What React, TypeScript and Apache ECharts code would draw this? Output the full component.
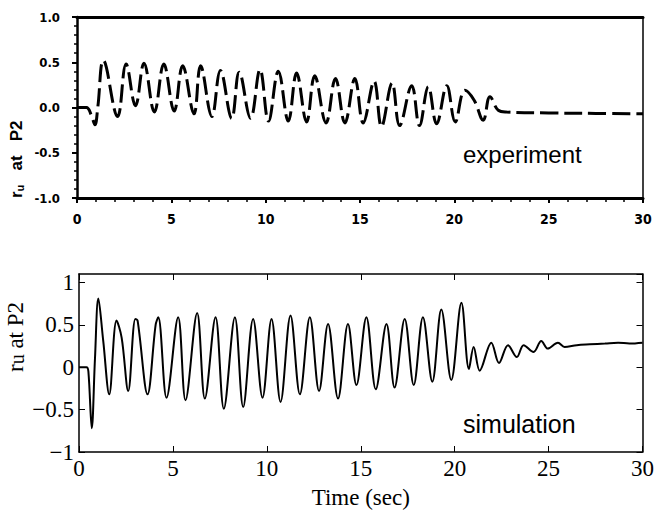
import React, { useEffect, useRef } from "react";
import * as echarts from "echarts";

// Top panel: experiment (time in sec, r_u)
const expTime = [0, 0.5, 0.75, 0.95, 1.1, 1.4, 2.15, 2.6, 3.1, 3.55, 4.1, 4.6, 5.15, 5.6, 6.2, 6.55, 7.15, 7.6, 8.2, 8.6, 9.2, 9.7, 10.15, 10.67, 11.2, 11.64, 12.17, 12.6, 13.2, 13.7, 14.2, 14.73, 15.17, 15.75, 16.14, 16.7, 17.1, 17.74, 18.15, 18.62, 19.06, 19.6, 20.05, 20.56, 21.05, 21.53, 21.89, 22.33, 22.77, 25, 27.5, 30];
const expValue = [0, 0, -0.08, -0.19, 0.0, 0.52, -0.1, 0.48, 0.02, 0.49, -0.05, 0.48, -0.04, 0.46, -0.07, 0.46, -0.1, 0.41, -0.12, 0.39, -0.12, 0.42, -0.15, 0.4, -0.15, 0.38, -0.16, 0.35, -0.17, 0.32, -0.17, 0.32, -0.17, 0.29, -0.21, 0.27, -0.2, 0.24, -0.2, 0.23, -0.18, 0.24, -0.16, 0.19, 0.08, -0.14, 0.12, -0.03, -0.05, -0.06, -0.065, -0.07];

// Bottom panel: simulation
const simTime = [0, 0.4, 0.5, 0.68, 0.85, 1.03, 1.29, 1.61, 2.0, 2.27, 2.62, 3.0, 3.12, 3.65, 4.08, 4.22, 4.66, 5.28, 5.67, 6.29, 6.7, 7.27, 7.71, 8.3, 8.74, 9.27, 9.77, 10.25, 10.73, 11.26, 11.76, 12.29, 12.78, 13.26, 13.79, 14.32, 14.77, 15.3, 15.8, 16.37, 16.8, 17.34, 17.82, 18.31, 18.81, 19.29, 19.82, 20.36, 20.76, 21.01, 21.33, 21.95, 22.36, 22.84, 23.31, 23.67, 24.2, 24.61, 24.96, 25.5, 25.85, 26.5, 27.2, 28, 28.7, 29.3, 30];
const simValue = [0, 0, -0.05, -0.72, 0.1, 0.81, 0.31, -0.32, 0.55, 0.35, -0.28, 0.57, 0.55, -0.32, 0.5, 0.59, -0.36, 0.59, -0.39, 0.64, -0.37, 0.59, -0.49, 0.59, -0.47, 0.57, -0.36, 0.57, -0.41, 0.61, -0.32, 0.59, -0.28, 0.51, -0.37, 0.51, -0.21, 0.59, -0.26, 0.51, -0.24, 0.57, -0.21, 0.59, -0.17, 0.68, -0.15, 0.76, -0.02, 0.24, -0.04, 0.29, 0.05, 0.26, 0.12, 0.26, 0.18, 0.31, 0.22, 0.29, 0.24, 0.26, 0.27, 0.28, 0.29, 0.28, 0.29];

const topYLabels = ["-1.0", "-0.5", "0.0", "0.5", "1.0"];
const bottomYLabels = ["\u22121", "\u22120.5", "0", "0.5", "1"];

const BOLD_FONT = '"Liberation Sans Narrow", "DejaVu Sans Condensed", "Liberation Sans", sans-serif';
const SERIF = '"Liberation Serif", "DejaVu Serif", serif';
const SANS = '"Liberation Sans", Arial, sans-serif';

export default function App() {
  const ref = useRef<HTMLDivElement>(null);
  useEffect(() => {
    if (!ref.current) return;
    const chart = echarts.init(ref.current, null, { renderer: "svg" });
    const black = "#000";
    const topLabel = (v: number) => {
      if (Math.abs(v * 2 - Math.round(v * 2)) > 1e-6) return "";
      const idx = Math.round((v + 1) / 0.5);
      return topYLabels[idx] ?? "";
    };
    const bottomLabel = (v: number) => {
      if (Math.abs(v * 2 - Math.round(v * 2)) > 1e-6) return "";
      const idx = Math.round((v + 1) / 0.5);
      return bottomYLabels[idx] ?? "";
    };
    chart.setOption({
      animation: false,
      backgroundColor: "#fff",
      grid: [
        { left: 77, top: 17, width: 566, height: 181 },
        { left: 79, top: 274, width: 564, height: 188 },
      ],
      xAxis: [
        {
          gridIndex: 0, type: "value", min: 0, max: 30, interval: 5, position: "bottom",
          axisLine: { onZero: false, lineStyle: { color: black, width: 3 } },
          axisTick: { show: true, inside: false, length: 5, lineStyle: { color: black, width: 2 } },
          minorTick: { show: true, splitNumber: 5, length: 4, lineStyle: { color: black, width: 1.5 } },
          axisLabel: { margin: 14, color: black, fontFamily: BOLD_FONT, fontWeight: "bold", fontSize: 14 },
          splitLine: { show: false },
        },
        {
          gridIndex: 0, type: "value", min: 0, max: 30, position: "top",
          axisLine: { onZero: false, lineStyle: { color: black, width: 3 } },
          axisTick: { show: false }, axisLabel: { show: false }, splitLine: { show: false },
        },
        {
          gridIndex: 1, type: "value", min: 0, max: 30, interval: 5, position: "bottom",
          axisLine: { onZero: false, lineStyle: { color: black, width: 1.5 } },
          axisTick: { show: true, inside: true, length: 6, lineStyle: { color: black, width: 1 } },
          axisLabel: { margin: 5, color: black, fontFamily: SERIF, fontSize: 23 },
          splitLine: { show: false },
          name: "Time (sec)", nameLocation: "middle", nameGap: 34,
          nameTextStyle: { color: black, fontFamily: SERIF, fontSize: 23 },
        },
        {
          gridIndex: 1, type: "value", min: 0, max: 30, interval: 5, position: "top",
          axisLine: { onZero: false, lineStyle: { color: black, width: 1.5 } },
          axisTick: { show: true, inside: true, length: 6, lineStyle: { color: black, width: 1 } },
          axisLabel: { show: false }, splitLine: { show: false },
        },
      ],
      yAxis: [
        {
          gridIndex: 0, type: "value", min: -1, max: 1, interval: 0.5, position: "left",
          axisLine: { onZero: false, lineStyle: { color: black, width: 2.5 } },
          axisTick: { show: true, inside: false, length: 5, lineStyle: { color: black, width: 2 } },
          minorTick: { show: true, splitNumber: 5, length: 3, lineStyle: { color: black, width: 1.5 } },
          axisLabel: { margin: 17, color: black, fontFamily: BOLD_FONT, fontWeight: "bold", fontSize: 13, formatter: topLabel },
          splitLine: { show: false },
        },
        {
          gridIndex: 0, type: "value", min: -1, max: 1, position: "right",
          axisLine: { onZero: false, lineStyle: { color: black, width: 1.5 } },
          axisTick: { show: false }, axisLabel: { show: false }, splitLine: { show: false },
        },
        {
          gridIndex: 1, type: "value", min: -1, max: 1.1, interval: 0.5, position: "left",
          axisLine: { onZero: false, lineStyle: { color: black, width: 1.5 } },
          axisTick: { show: true, inside: true, length: 6, lineStyle: { color: black, width: 1 } },
          axisLabel: { margin: 5, color: black, fontFamily: SERIF, fontSize: 23, formatter: bottomLabel, showMaxLabel: false },
          splitLine: { show: false },
        },
        {
          gridIndex: 1, type: "value", min: -1, max: 1.1, interval: 0.5, position: "right",
          axisLine: { onZero: false, lineStyle: { color: black, width: 1.5 } },
          axisTick: { show: true, inside: true, length: 6, lineStyle: { color: black, width: 1 } },
          axisLabel: { show: false }, splitLine: { show: false },
        },
      ],
      series: [
        {
          type: "line", xAxisIndex: 0, yAxisIndex: 0,
          data: expTime.map((t, i) => [t, expValue[i]]),
          showSymbol: false, smooth: 0.4,
          lineStyle: { color: black, width: 3, type: [18, 6] },
        },
        {
          type: "line", xAxisIndex: 2, yAxisIndex: 2,
          data: simTime.map((t, i) => [t, simValue[i]]),
          showSymbol: false, smooth: 0.35,
          lineStyle: { color: black, width: 2 },
        },
      ],
      graphic: [
        {
          type: "text", left: 463, top: 142,
          style: { text: "experiment", fill: black, font: `24px ${SANS}` },
        },
        {
          type: "text", left: 463, top: 411,
          style: { text: "simulation", fill: black, font: `25px ${SANS}` },
        },
        {
          type: "text", x: 7, y: 198, rotation: Math.PI / 2,
          style: {
            text: "{r|r}{s|u}{r|   at   P2}",
            fill: black,
            rich: {
              r: { fontFamily: SANS, fontWeight: "bold", fontSize: 17, fill: black },
              s: { fontFamily: SANS, fontWeight: "bold", fontSize: 11, fill: black, padding: [7, 0, 0, 0] },
            },
          },
        },
        {
          type: "text", x: 3, y: 372, rotation: Math.PI / 2,
          style: {
            text: "{r|r}{s|u}{r| at P2}",
            fill: black,
            rich: {
              r: { fontFamily: SERIF, fontSize: 23, fill: black },
              s: { fontFamily: SERIF, fontSize: 20, fill: black, padding: [4, 0, 0, 0] },
            },
          },
        },
      ],
    });
    return () => chart.dispose();
  }, []);
  return (
    <div
      ref={ref}
      style={{ position: "fixed", left: 0, top: 0, width: 657, height: 510, background: "#fff" }}
    />
  );
}
